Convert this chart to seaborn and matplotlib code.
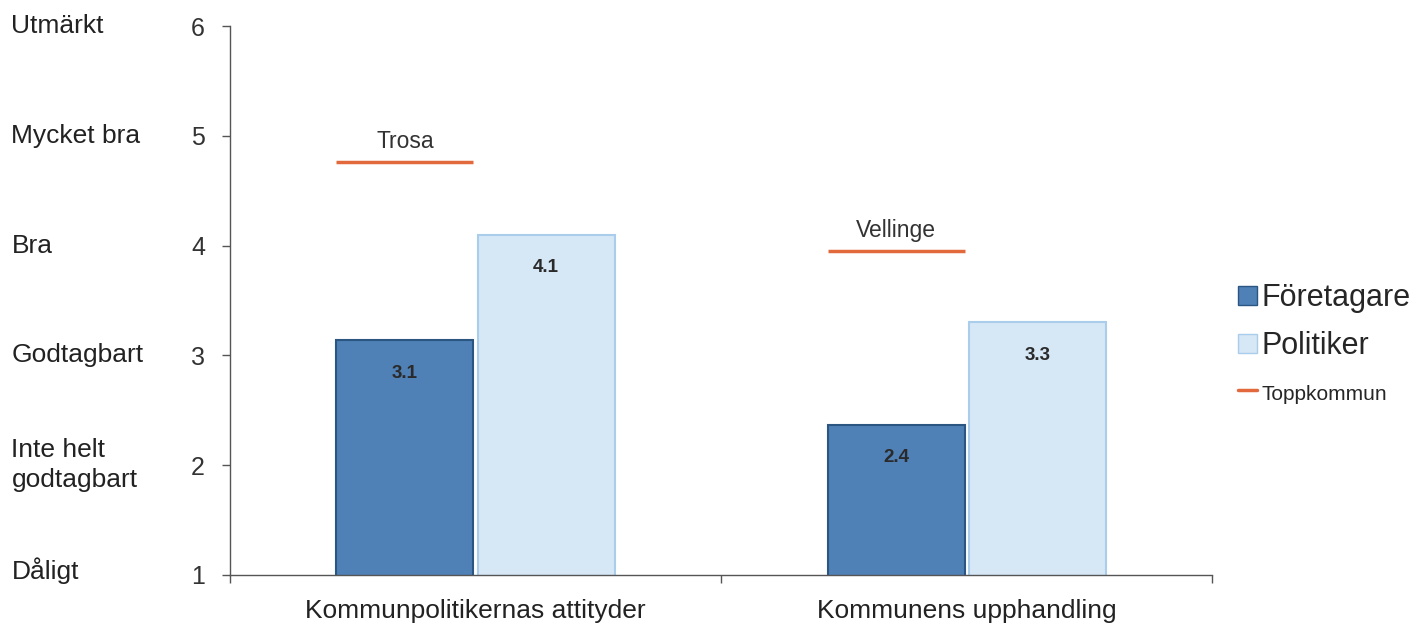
"""
plot.py - kommunjämförelse Företagare vs Politiker
"""
import numpy as np
import pandas as pd
import matplotlib
matplotlib.use('Agg')
import matplotlib.pyplot as plt
import matplotlib.transforms as mtransforms
from matplotlib.lines import Line2D
from matplotlib.patches import Patch
import seaborn as sns

# data
categories   = ["Kommunpolitikernas attityder", "Kommunens upphandling"]
foretagare   = [3.14, 2.37]
politiker    = [4.1, 3.3]
bar_labels_f = ["3.1", "2.4"]
bar_labels_p = ["4.1", "3.3"]
top_names    = ["Trosa", "Vellinge"]
top_values   = [4.76, 3.95]
scale_ticks  = [1, 2, 3, 4, 5, 6]
scale_names  = ["Dåligt", "Inte helt\ngodtagbart", "Godtagbart", "Bra",
                "Mycket bra", "Utmärkt"]

df = pd.DataFrame({
    "kategori": categories * 2,
    "grupp": ["Företagare"] * 2 + ["Politiker"] * 2,
    "varde": foretagare + politiker,
})

FACE = {"Företagare": "#4f80b6", "Politiker": "#d6e7f6"}
EDGE = {"Företagare": "#2b5681", "Politiker": "#a9cdea"}
ORANGE = "#e2693c"

sns.set_theme(style="white")
plt.rcParams['font.family'] = ['Liberation Sans', 'DejaVu Sans']

fig = plt.figure(figsize=(14.28, 6.27), dpi=100)
ax = fig.add_axes([0.161, 0.083, 0.688, 0.8755])

sns.barplot(data=df, x="kategori", y="varde", hue="grupp",
            palette=FACE, width=0.575, gap=0.03, ax=ax, legend=False,
            saturation=1)

ax.set_ylim(1, 6)
ax.set_xlim(-0.5, 1.5)

# kantfärger + etiketter
for cont, grp, labs in zip(ax.containers, ["Företagare", "Politiker"],
                           [bar_labels_f, bar_labels_p]):
    for p in cont:
        p.set_edgecolor(EDGE[grp])
        p.set_linewidth(1.5)
    ax.bar_label(cont, labels=labs, padding=-30, fontsize=13.5,
                 fontweight='bold', color='#2a2a2a')

# toppkommun-linjer over företagarstapeln
for p, name, val in zip(ax.containers[0], top_names, top_values):
    x0, w = p.get_x(), p.get_width()
    ax.hlines(val, x0, x0 + w, color=ORANGE, lw=2.5)
    ax.text(x0 + w / 2, val + 0.08, name, ha='center', va='bottom',
            fontsize=16.5, color='#333333')

# axlar
for s in ["top", "right"]:
    ax.spines[s].set_visible(False)
for s in ["left", "bottom"]:
    ax.spines[s].set_color("#555555")
    ax.spines[s].set_linewidth(1.0)

ax.set_yticks(scale_ticks)
ax.set_yticklabels([str(t) for t in scale_ticks], fontsize=18, color='#333333')
ax.tick_params(axis='y', direction='out', length=6, width=1, pad=12,
               color='#555555', left=True)

ax.set_xticks([0, 1])
ax.set_xticklabels(categories, fontsize=19, color='#222222')
ax.tick_params(axis='x', which='major', length=0, pad=17)
ax.set_xticks([-0.5, 0.5, 1.5], minor=True)
ax.tick_params(axis='x', which='minor', direction='out', length=6, width=1,
               color='#555555', bottom=True)
ax.set_xlabel("")
ax.set_ylabel("")

# beskrivande skala till vänster
trans = mtransforms.blended_transform_factory(fig.transFigure, ax.transData)
for t, name in zip(scale_ticks, scale_names):
    off = 0.0 if t != 1 else 0.04
    ax.text(0.008, t + off, name, transform=trans, ha='left', va='center',
            fontsize=19, color='#222222', linespacing=1.3, clip_on=False)

# legend
handles = [
    Patch(facecolor=FACE["Företagare"], edgecolor=EDGE["Företagare"]),
    Patch(facecolor=FACE["Politiker"], edgecolor=EDGE["Politiker"]),
    Line2D([0], [0], color=ORANGE, lw=3),
]
leg = fig.legend(handles, ["Företagare", "Politiker", "Toppkommun"],
                 loc='center left', bbox_to_anchor=(0.848, 0.452),
                 frameon=False, handlelength=0.6, handleheight=0.6,
                 handletextpad=0.15, labelspacing=0.6, fontsize=22)
leg.get_texts()[2].set_fontsize(15)
leg.legend_handles[2].set_linewidth(2.5)

fig.savefig("out.png", dpi=100, facecolor='white')
plt.close(fig)
